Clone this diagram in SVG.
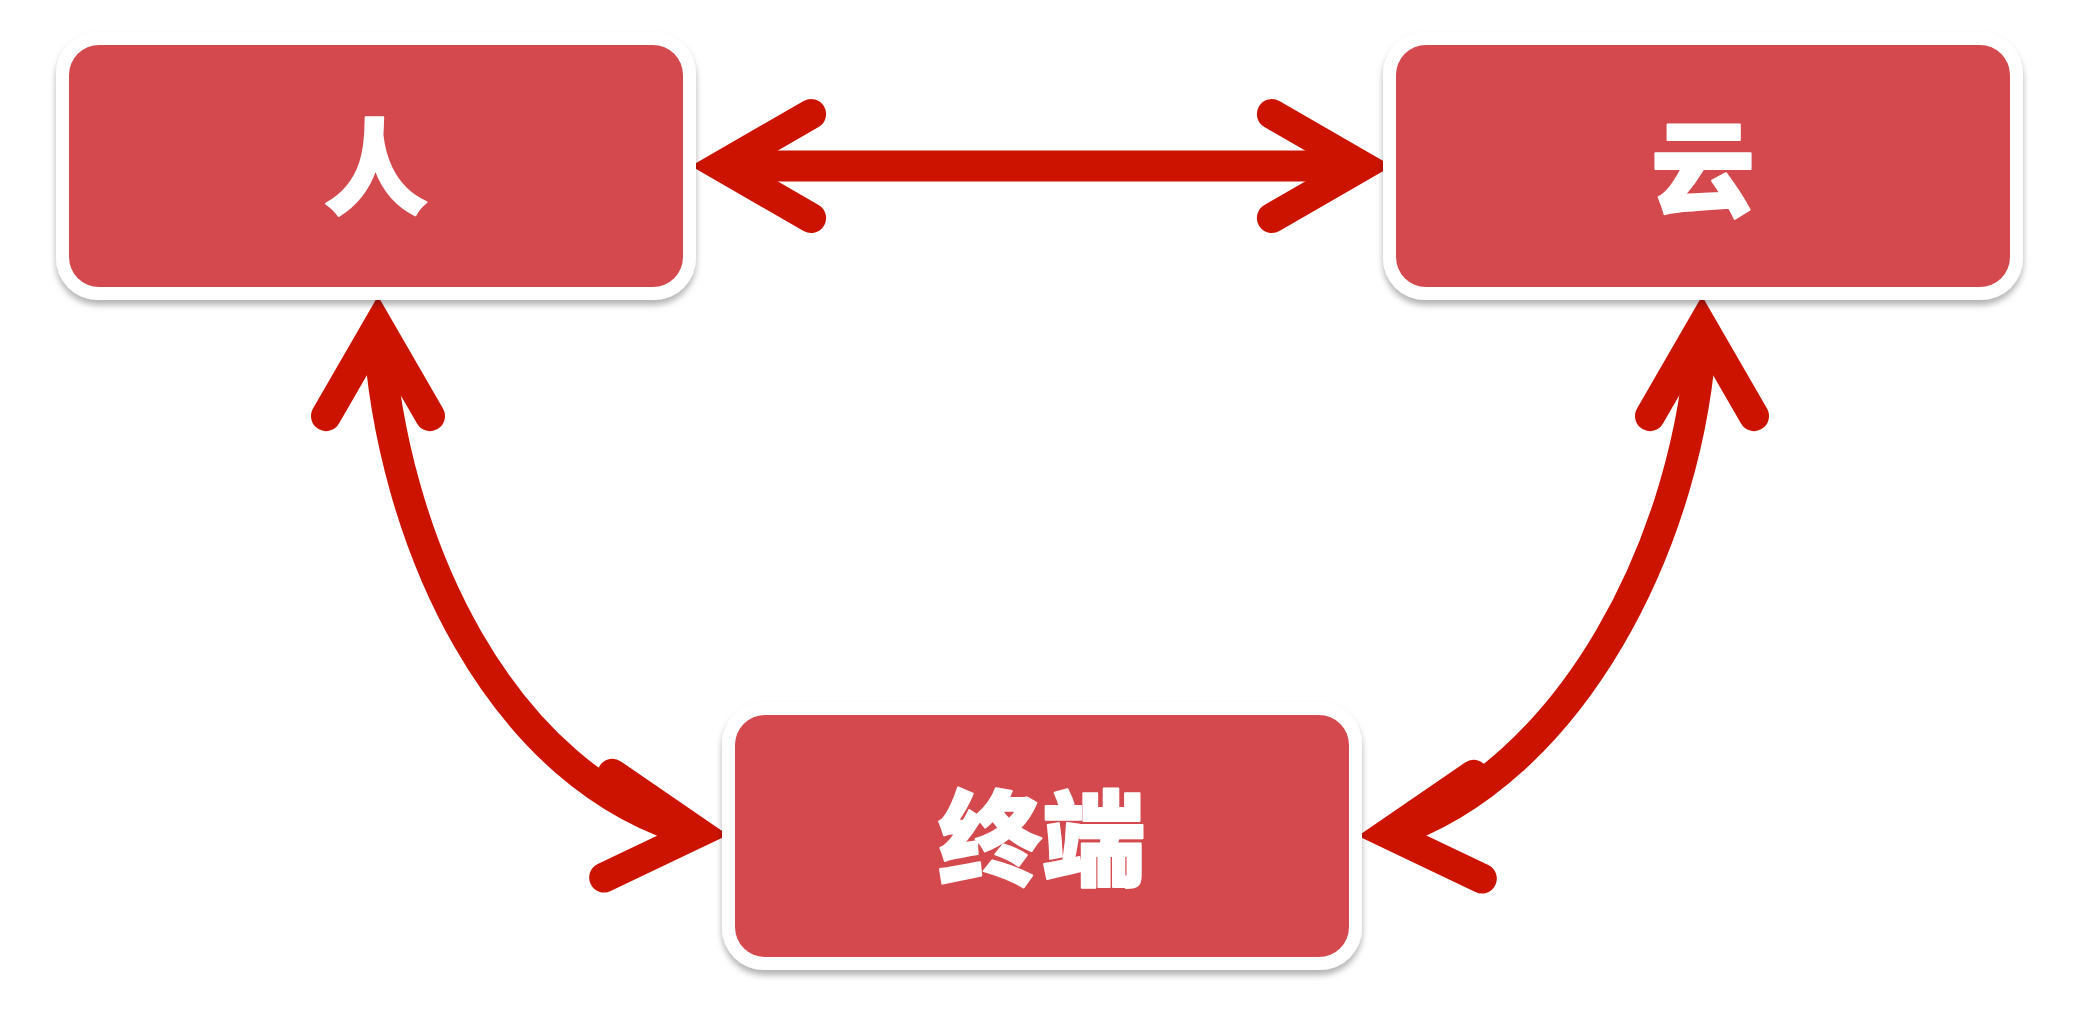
<svg xmlns="http://www.w3.org/2000/svg" width="2085" height="1010" viewBox="0 0 2085 1010">
  <defs>
    <filter id="shadow" x="-10%" y="-10%" width="120%" height="130%">
      <feDropShadow dx="0" dy="5" stdDeviation="3" flood-color="#000" flood-opacity="0.3"/>
    </filter>
    <style>
      .frame { fill: #ffffff; filter: url(#shadow); }
      .box { fill: #d4494e; }
      .label { fill: #ffffff; stroke: #ffffff; stroke-width: 2; stroke-linejoin: round; font-family: "Noto Sans CJK SC", "Noto Sans", sans-serif; font-weight: 900; font-size: 104px; text-anchor: middle; dominant-baseline: central; }
      .shaft { fill: none; stroke: #cc1300; stroke-width: 31; stroke-linecap: butt; }
      .head { fill: none; stroke: #cc1300; stroke-width: 30; stroke-linecap: round; stroke-linejoin: miter; stroke-miterlimit: 4; }
    </style>
  </defs>
  <rect width="2085" height="1010" fill="#ffffff"/>

  <!-- connectors -->
  <g id="connectors">
    <g id="person-cloud">
      <path class="shaft" d="M721 166 H1362"/>
      <polyline class="head" points="811.1,114 721,166 811.1,218"/>
      <polyline class="head" points="1271.9,114 1362,166 1271.9,218"/>
    </g>
    <g id="person-terminal">
      <path class="shaft" d="M378 326 C390 540 500 780 698 833"/>
      <polyline class="head" points="326,416.1 378,326 430,416.1"/>
      <polyline class="head" points="612.4,773.8 698.1,832.7 604.2,877.5"/>
    </g>
    <g id="cloud-terminal">
      <path class="shaft" d="M1702 326 C1692 540 1570 775 1388 834"/>
      <polyline class="head" points="1650,416.1 1702,326 1754,416.1"/>
      <polyline class="head" points="1473.6,774.8 1387.9,833.7 1481.8,878.5"/>
    </g>
  </g>

  <!-- nodes -->
  <g id="node-person">
    <rect class="frame" x="56" y="32" width="640" height="268" rx="42"/>
    <rect class="box" x="69" y="45" width="614" height="242" rx="30"/>
    <text class="label" x="376" y="161">人</text>
  </g>
  <g id="node-cloud">
    <rect class="frame" x="1383" y="32" width="640" height="268" rx="42"/>
    <rect class="box" x="1396" y="45" width="614" height="242" rx="30"/>
    <text class="label" x="1703" y="162">云</text>
  </g>
  <g id="node-terminal">
    <rect class="frame" x="722" y="702" width="640" height="268" rx="42"/>
    <rect class="box" x="735" y="715" width="614" height="242" rx="30"/>
    <text class="label" x="1042" y="832">终端</text>
  </g>
</svg>
